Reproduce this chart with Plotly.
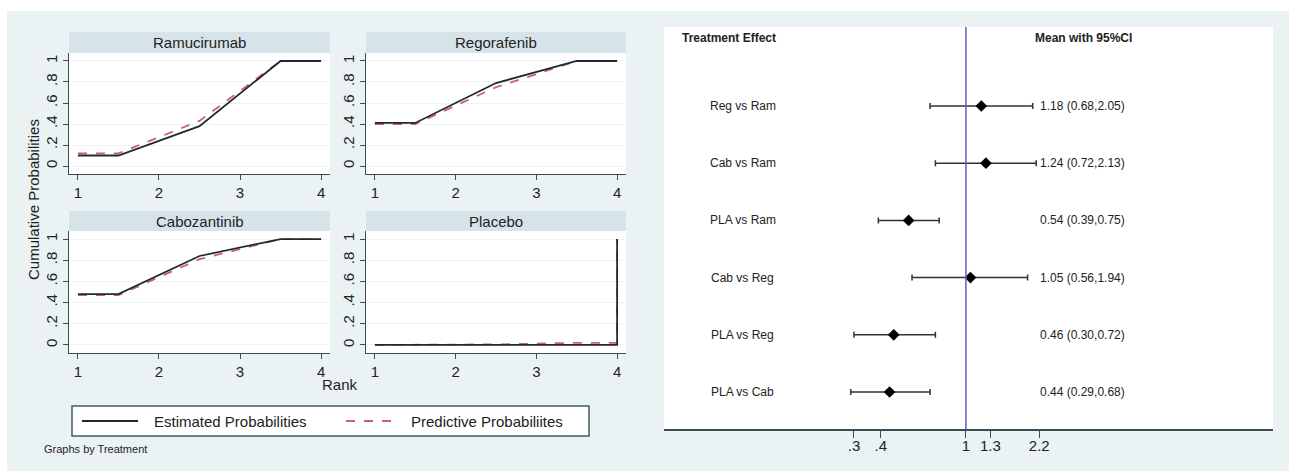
import plotly.graph_objects as go

W, H = 1289, 471
def px(x): return x / W
def py(y): return 1 - y / H

# ---------------- data ----------------
treatments = ["Ramucirumab", "Regorafenib", "Cabozantinib", "Placebo"]
rank_x = [1, 1.5, 2.5, 3.5, 4, 4]
est_ram = [0.10, 0.10, 0.38, 1.00, 1.00, 1.00]
pred_ram = [0.12, 0.12, 0.43, 1.00, 1.00, 1.00]
est_reg = [0.41, 0.41, 0.79, 1.00, 1.00, 1.00]
pred_reg = [0.40, 0.40, 0.75, 1.00, 1.00, 1.00]
est_cab = [0.48, 0.48, 0.84, 1.00, 1.00, 1.00]
pred_cab = [0.47, 0.47, 0.81, 1.00, 1.00, 1.00]
est_pla = [0.00, 0.00, 0.00, 0.00, 0.00, 1.00]
pred_pla = [0.00, 0.00, 0.005, 0.02, 0.02, 1.00]
rank_ticks = [1, 2, 3, 4]
prob_ticks = [0, 0.2, 0.4, 0.6, 0.8, 1]
prob_ticktext = ["0", ".2", ".4", ".6", ".8", "1"]

comparisons = ["Reg vs Ram", "Cab vs Ram", "PLA vs Ram", "Cab vs Reg", "PLA vs Reg", "PLA vs Cab"]
means = [1.18, 1.24, 0.54, 1.05, 0.46, 0.44]
lower = [0.68, 0.72, 0.39, 0.56, 0.30, 0.29]
upper = [2.05, 2.13, 0.75, 1.94, 0.72, 0.68]
forest_ticks = [0.3, 0.4, 1, 1.3, 2.2]
forest_ticktext = [".3", ".4", "1", "1.3", "2.2"]

# ---------------- styles ----------------
FONT = "Liberation Sans, Arial, sans-serif"
BG = "#eaf2f4"
STRIP = "#d6e4ea"
AXC = "#3b4e56"
EST_C = "#1f2a30"
PRED_C = "#cc5f6e"
TXT = "#222222"

fig = go.Figure()
shapes = []
annotations = []

panels = [
    (treatments[0], est_ram, pred_ram, (69, 330), (53, 174), (32, 53)),
    (treatments[1], est_reg, pred_reg, (366, 626), (53, 174), (32, 53)),
    (treatments[2], est_cab, pred_cab, (69, 330), (231, 353), (211, 231)),
    (treatments[3], est_pla, pred_pla, (366, 626), (231, 353), (211, 231)),
]

layout_axes = {}
for i, (name, est, pred, (x0, x1), (y0, y1), (s0, s1)) in enumerate(panels, start=1):
    xa = "x" if i == 1 else f"x{i}"
    ya = "y" if i == 1 else f"y{i}"
    fig.add_trace(go.Scatter(x=rank_x, y=pred, mode="lines", xaxis=xa, yaxis=ya,
                             line=dict(color=PRED_C, width=1.8, dash="dash"), showlegend=False))
    fig.add_trace(go.Scatter(x=rank_x, y=est, mode="lines", xaxis=xa, yaxis=ya,
                             line=dict(color=EST_C, width=1.8), showlegend=False))
    xk = "xaxis" if i == 1 else f"xaxis{i}"
    yk = "yaxis" if i == 1 else f"yaxis{i}"
    layout_axes[xk] = dict(domain=[px(x0), px(x1)], range=[0.89, 4.11], anchor=ya,
                           tickvals=rank_ticks, ticks="outside", ticklen=5, tickcolor=AXC,
                           showline=True, linecolor=AXC, linewidth=1.3, showgrid=False,
                           zeroline=False, tickfont=dict(size=15, color=TXT, family=FONT))
    layout_axes[yk] = dict(domain=[py(y1), py(y0)], range=[-0.076, 1.076], anchor=xa,
                           tickvals=prob_ticks, ticktext=prob_ticktext, tickangle=-90,
                           ticks="outside", ticklen=5, tickcolor=AXC,
                           showline=True, linecolor=AXC, linewidth=1.3,
                           showgrid=True, gridcolor="#edf2f4", gridwidth=1,
                           zeroline=False, tickfont=dict(size=15, color=TXT, family=FONT))
    shapes.append(dict(type="rect", xref="paper", yref="paper", x0=px(x0), x1=px(x1),
                       y0=py(s1), y1=py(s0), fillcolor=STRIP, line=dict(width=0), layer="below"))
    annotations.append(dict(text=name, xref="paper", yref="paper", x=px((x0 + x1) / 2),
                            y=py((s0 + s1) / 2), showarrow=False, xanchor="center", yanchor="middle",
                            font=dict(size=15, color=TXT, family=FONT)))

# ---------------- forest plot ----------------
fig.add_trace(go.Scatter(
    x=means, y=comparisons, mode="markers", xaxis="x5", yaxis="y5", showlegend=False,
    marker=dict(symbol="diamond", size=9, color="black"),
    error_x=dict(type="data", symmetric=False,
                 array=[u - m for u, m in zip(upper, means)],
                 arrayminus=[m - l for m, l in zip(means, lower)],
                 color="#333333", thickness=1.5, width=3),
))
layout_axes["xaxis5"] = dict(domain=[px(664), px(1273)], type="log", range=[-1.410, 1.434],
                             anchor="y5", tickvals=forest_ticks, ticktext=forest_ticktext,
                             ticks="outside", ticklen=7, tickcolor=AXC, showline=True,
                             linecolor=AXC, linewidth=1.5, showgrid=False, zeroline=False,
                             ticklabelstandoff=-5,
                             tickfont=dict(size=15, color=TXT, family=FONT))
layout_axes["yaxis5"] = dict(domain=[py(429), py(27)], type="category",
                             categoryarray=comparisons, range=[5.647, -1.381], anchor="x5",
                             showgrid=False, showticklabels=False, showline=False,
                             zeroline=False, ticks="")

shapes.append(dict(type="line", xref="x5", yref="y5 domain", x0=1, x1=1, y0=0, y1=1,
                   line=dict(color="#5b5bd6", width=1.5)))

for i, (c, m, l, u) in enumerate(zip(comparisons, means, lower, upper)):
    annotations.append(dict(text=c, xref="paper", yref="y5", x=px(743), y=i, showarrow=False,
                            xanchor="center", yanchor="middle",
                            font=dict(size=12, color=TXT, family=FONT)))
    annotations.append(dict(text=f"{m:.2f} ({l:.2f},{u:.2f})", xref="paper", yref="y5",
                            x=px(1038), y=i, showarrow=False, xanchor="left", yanchor="middle",
                            font=dict(size=12, color=TXT, family=FONT)))

annotations.append(dict(text="<b>Treatment Effect</b>", xref="paper", yref="paper", x=px(729),
                        y=py(38), showarrow=False, xanchor="center", yanchor="middle",
                        font=dict(size=12, color=TXT, family=FONT)))
annotations.append(dict(text="<b>Mean with 95%CI</b>", xref="paper", yref="paper", x=px(1083),
                        y=py(38), showarrow=False, xanchor="center", yanchor="middle",
                        font=dict(size=12, color=TXT, family=FONT)))

# ---------------- left-side titles and legend ----------------
annotations.append(dict(text="Cumulative Probabilities", xref="paper", yref="paper", x=px(33),
                        y=py(200), textangle=-90, showarrow=False, xanchor="center",
                        yanchor="middle", font=dict(size=15, color=TXT, family=FONT)))
annotations.append(dict(text="Rank", xref="paper", yref="paper", x=px(340), y=py(384),
                        showarrow=False, xanchor="center", yanchor="middle",
                        font=dict(size=15, color=TXT, family=FONT)))
annotations.append(dict(text="Graphs by Treatment", xref="paper", yref="paper", x=px(42),
                        y=py(449), showarrow=False, xanchor="left", yanchor="middle",
                        font=dict(size=11, color=TXT, family=FONT)))

shapes.append(dict(type="rect", xref="paper", yref="paper", x0=px(72), x1=px(589),
                   y0=py(436), y1=py(406), fillcolor="white",
                   line=dict(color="#3f5d63", width=1.5)))
shapes.append(dict(type="line", xref="paper", yref="paper", x0=px(82), x1=px(138),
                   y0=py(421), y1=py(421), line=dict(color=EST_C, width=1.8)))
shapes.append(dict(type="line", xref="paper", yref="paper", x0=px(346), x1=px(396),
                   y0=py(421), y1=py(421), line=dict(color=PRED_C, width=1.8, dash="dash")))
annotations.append(dict(text="Estimated Probabilities", xref="paper", yref="paper", x=px(152),
                        y=py(421), showarrow=False, xanchor="left", yanchor="middle",
                        font=dict(size=15, color=TXT, family=FONT)))
annotations.append(dict(text="Predictive Probabiliites", xref="paper", yref="paper", x=px(409),
                        y=py(421), showarrow=False, xanchor="left", yanchor="middle",
                        font=dict(size=15, color=TXT, family=FONT)))

# white outer border (top and left)
shapes.append(dict(type="rect", xref="paper", yref="paper", x0=0, x1=1, y0=py(11), y1=1,
                   fillcolor="white", line=dict(width=0), layer="below"))
shapes.append(dict(type="rect", xref="paper", yref="paper", x0=0, x1=px(7), y0=0, y1=1,
                   fillcolor="white", line=dict(width=0), layer="below"))

fig.update_layout(
    width=W, height=H, margin=dict(l=0, r=0, t=0, b=0),
    paper_bgcolor=BG, plot_bgcolor="white",
    font=dict(family=FONT, color=TXT),
    shapes=shapes, annotations=annotations, showlegend=False,
    **layout_axes,
)

fig.write_html("out.html")
